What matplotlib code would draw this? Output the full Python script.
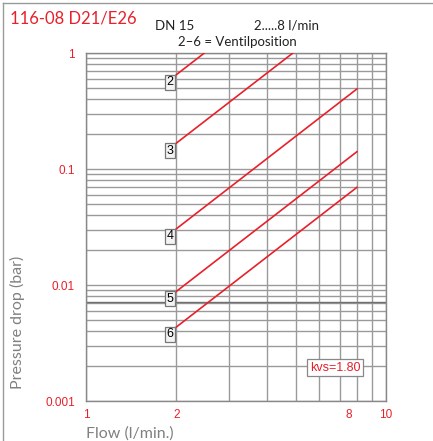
import matplotlib
matplotlib.use("Agg")
import matplotlib.pyplot as plt
import matplotlib.transforms as mtransforms
import numpy as np

# ---- data ----
positions = ["2", "3", "4", "5", "6"]
flow_start = [2, 2, 2, 2, 2]
flow_end = [8, 8, 8, 8, 8]
dp_start = [0.65, 0.167, 0.0305, 0.0088, 0.00434]
dp_end = [10.4, 2.67, 0.49, 0.141, 0.0695]
x_ticks = [1, 2, 8, 10]
x_ticklabels = ["1", "2", "8", "10"]
y_ticks = [0.001, 0.01, 0.1, 1]
y_ticklabels = ["0.001", "0.01", "0.1", "1"]
extra_hlines = [0.0072]

RED = "#e8202a"
GRID = "#9a9a9a"

fig = plt.figure(figsize=(4.33, 4.41), dpi=100)
ax = fig.add_axes([86/433, 1-401/441, 300/433, 348/441])
ax.set_xscale("log")
ax.set_yscale("log")
ax.set_xlim(1, 10)
ax.set_ylim(0.001, 1)

ax.grid(True, which="both", color=GRID, lw=1.0)
ax.set_axisbelow(True)
for v in extra_hlines:
    ax.axhline(v, color="#707070", lw=1.0, zorder=1)

for lab, x0, x1, y0, y1 in zip(positions, flow_start, flow_end, dp_start, dp_end):
    ax.plot([x0, x1], [y0, y1], color=RED, lw=1.2, zorder=3)
    ax.annotate(lab, (x0, y0), xytext=(-2, -1), textcoords="offset points",
                ha="right", va="top", fontsize=9, family="Liberation Sans",
                color="black",
                bbox=dict(boxstyle="square,pad=0.12", fc="#f4f4f4", ec="#777777", lw=0.9),
                zorder=4)

ax.text(0.83, 0.095, "kvs=1.80", transform=ax.transAxes, ha="center", va="center",
        fontsize=9, family="Liberation Sans", color=RED,
        bbox=dict(boxstyle="square,pad=0.2", fc="white", ec="#888888", lw=0.9), zorder=4)

ax.set_xticks(x_ticks)
ax.set_xticklabels(["" if t == "8" else t for t in x_ticklabels])
ax.set_yticks(y_ticks)
ax.set_yticklabels(y_ticklabels)
ax.xaxis.set_minor_locator(matplotlib.ticker.LogLocator(base=10, subs=np.arange(2, 10)))
ax.yaxis.set_minor_locator(matplotlib.ticker.LogLocator(base=10, subs=np.arange(2, 10)))
ax.xaxis.set_minor_formatter(matplotlib.ticker.NullFormatter())
ax.yaxis.set_minor_formatter(matplotlib.ticker.NullFormatter())
ax.tick_params(which="both", length=0, colors=RED, labelsize=8.5, labelfontfamily="Liberation Sans")
ax.tick_params(axis="y", pad=8)
ax.tick_params(axis="x", pad=6)
for s in ax.spines.values():
    s.set_color("#888888")
    s.set_linewidth(1.0)

# tick label "8" drawn slightly left of its gridline, as in the original
trans8 = mtransforms.blended_transform_factory(ax.transData, ax.transAxes) + \
    mtransforms.ScaledTranslation(-8/100, -6/72, fig.dpi_scale_trans)
for t, l in zip(x_ticks, x_ticklabels):
    if l == "8":
        ax.text(t, 0, l, transform=trans8, ha="center", va="top", color=RED,
                fontsize=8.5, family="Liberation Sans")

# texts
fig.text(10/433, 1-18/441, "116-08 D21/E26", color=RED, fontsize=12, family="Lato",
         ha="left", va="center")
fig.text(175/433, 1-26/441, "DN 15", color="#222222", fontsize=9.5, family="Lato",
         ha="center", va="center")
fig.text(286/433, 1-26/441, "2.....8 l/min", color="#222222", fontsize=9.5, family="Lato",
         ha="center", va="center")
fig.text(237/433, 1-42/441, "2\u20136 = Ventilposition", color="#222222", fontsize=9.5,
         family="Lato", ha="center", va="center")
fig.text(17/433, 1-322/441, "Pressure drop (bar)", color="#808080", fontsize=11.5,
         family="Lato", rotation=90, ha="center", va="center")
fig.text(86/433, 1-434/441, "Flow (l/min.)", color="#808080", fontsize=11.5,
         family="Lato", ha="left", va="center")

# frame lines (top and left)
fig.add_artist(plt.Line2D([3/433, 1], [1-3/441, 1-3/441], color="#999999", lw=1.0))
fig.add_artist(plt.Line2D([3/433, 3/433], [0, 1-3/441], color="#999999", lw=1.0))

fig.savefig("out.png", dpi=100)
